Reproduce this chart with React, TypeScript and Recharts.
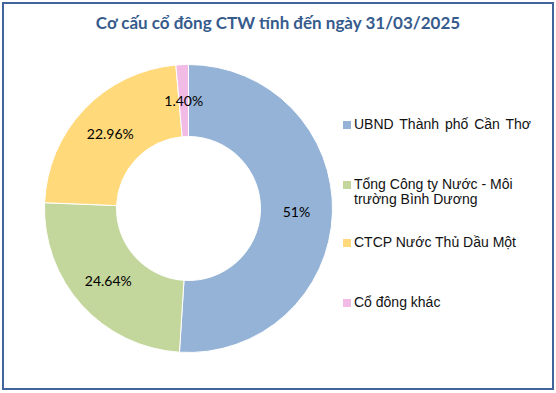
import { Legend, Pie, PieChart } from "recharts"

// Shareholder structure of CTW as of 31/03/2025
const holders = [
  "UBND Thành phố Cần Thơ",
  "Tổng Công ty Nước - Môi trường Bình Dương",
  "CTCP Nước Thủ Dầu Một",
  "Cổ đông khác",
]
const shares = [51, 24.64, 22.96, 1.4]
const shareLabels = ["51%", "24.64%", "22.96%", "1.40%"]
const colors = ["#95b3d7", "#c3d69b", "#ffd97a", "#f2bbe6"]

const data = holders.map((name, i) => ({ name, value: shares[i], fill: colors[i] }))

const RADIAN = Math.PI / 180
const CX = 188.5
const CY = 208.5

function SliceLabel(props: any) {
  const { cx, cy, midAngle, innerRadius, outerRadius, index } = props
  const r = (innerRadius + outerRadius) / 2
  const x = cx + r * Math.cos(-midAngle * RADIAN)
  const y = cy + r * Math.sin(-midAngle * RADIAN)
  return (
    <text
      x={x}
      y={y}
      textAnchor="middle"
      dominantBaseline="central"
      fill="#000"
      fontSize={14}
      fontFamily="Lato, 'Open Sans', sans-serif"
    >
      {shareLabels[index]}
    </text>
  )
}

// gaps above each legend entry, like the Excel layout
const legendGaps = [0, 45, 28, 45]
// first entry is spread out a bit wider in the original
const legendWordSpacing = [2, 0, 0, 0]

function LegendBox() {
  return (
    <div style={{ fontFamily: "'Liberation Sans', Arial, sans-serif", fontSize: 14, lineHeight: "15px", color: "#111" }}>
      {holders.map((name, i) => (
        <div key={name} style={{ display: "flex", alignItems: "flex-start", marginTop: legendGaps[i] }}>
          <span style={{ width: 8, height: 8, marginTop: 4, marginRight: 3, background: colors[i], flexShrink: 0 }} />
          <span style={{ width: 190, wordSpacing: legendWordSpacing[i] }}>{name}</span>
        </div>
      ))}
    </div>
  )
}

export default function App() {
  return (
    <div style={{ position: "absolute", left: 0, top: 0, width: 556, height: 393, background: "#fff" }}>
      <div
        style={{
          position: "absolute",
          left: 2,
          top: 2,
          width: 548,
          height: 384,
          border: "2px solid #41649a",
        }}
      />
      <div
        style={{
          position: "absolute",
          left: 0,
          top: 12,
          width: 556,
          textAlign: "center",
          fontFamily: "Lato, 'Open Sans', sans-serif",
          fontWeight: 700,
          fontSize: 17,
          color: "#365b8c",
        }}
      >
        Cơ cấu cổ đông CTW tính đến ngày 31/03/2025
      </div>
      <div style={{ position: "absolute", left: 0, top: 0 }}>
        <PieChart width={556} height={393} margin={{ top: 0, right: 0, bottom: 0, left: 0 }}>
          <Pie
            data={data}
            dataKey="value"
            nameKey="name"
            cx={CX}
            cy={CY}
            innerRadius={72}
            outerRadius={144}
            startAngle={90}
            endAngle={-270}
            stroke="#fff"
            strokeWidth={1}
            label={SliceLabel}
            labelLine={false}
            isAnimationActive={false}
          />
          <Legend
            layout="vertical"
            verticalAlign="top"
            align="right"
            content={LegendBox}
            wrapperStyle={{ left: 343, top: 117, width: 205 }}
          />
        </PieChart>
      </div>
    </div>
  )
}
